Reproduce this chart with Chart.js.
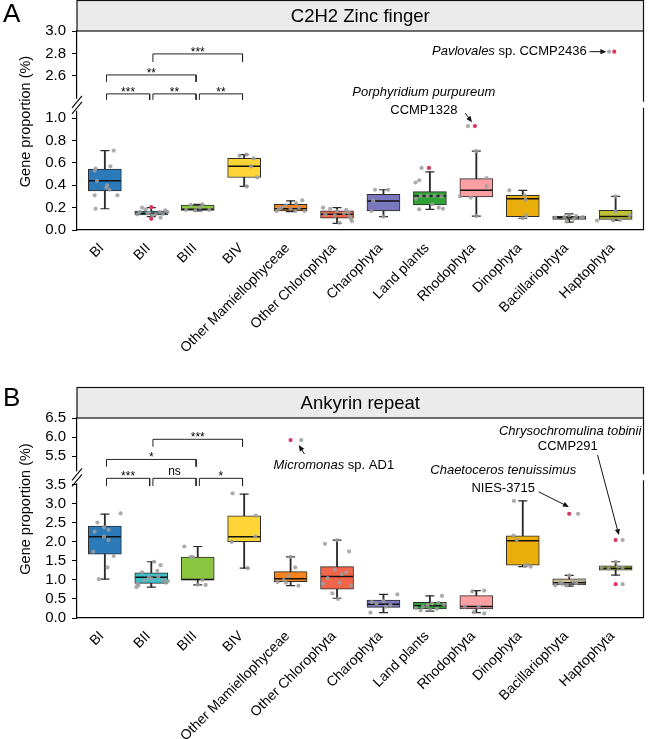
<!DOCTYPE html>
<html><head><meta charset="utf-8">
<script src="https://cdn.jsdelivr.net/npm/chart.js@4.4.1/dist/chart.umd.min.js"></script>
<style>
html,body{margin:0;padding:0;background:#fff;width:661px;height:739px;overflow:hidden;position:relative;}
.wrap{position:absolute;left:0;width:661px;}
canvas{display:block;}
.tag{position:absolute;left:3px;font:26px "Liberation Sans",Arial,sans-serif;color:#000;line-height:30px;}
</style></head><body>
<div class="wrap" style="top:0;height:365px"><canvas id="cA" width="661" height="365"></canvas></div>
<div class="wrap" style="top:365px;height:374px"><canvas id="cB" width="661" height="374"></canvas></div>
<div class="tag" style="top:-2px">A</div>
<div class="tag" style="top:382px">B</div>
<script>
const FONT = '"Liberation Sans", Arial, Helvetica, sans-serif';
const yTitle = 'Gene proportion (%)';
const categories = ['BI','BII','BIII','BIV','Other Mamiellophyceae','Other Chlorophyta','Charophyta','Land plants','Rhodophyta','Dinophyta','Bacillariophyta','Haptophyta'];
const boxColors = ['#2b7bba','#41bfc8','#8cc540','#fdd536','#f5841f','#f2654a','#7b77be','#2fa236','#fb9fa3','#e9ad0c','#cfc092','#c0c236'];

// ---------- Panel A : C2H2 Zinc finger ----------
const titleA = 'C2H2 Zinc finger';
const lowA  = [0.19, 0.12, 0.17, 0.39, 0.165, 0.06, 0.12, 0.185, 0.125, 0.105, 0.07, 0.085];
const q1A   = [0.35, 0.135, 0.175, 0.47, 0.17, 0.105, 0.17, 0.225, 0.295, 0.12, 0.095, 0.095];
const medA  = [0.44, 0.15, 0.185, 0.57, 0.19, 0.14, 0.26, 0.305, 0.355, 0.28, 0.11, 0.12];
const q3A   = [0.545, 0.17, 0.222, 0.64, 0.23, 0.172, 0.32, 0.343, 0.46, 0.31, 0.122, 0.176];
const highA = [0.71, 0.20, 0.23, 0.675, 0.26, 0.20, 0.36, 0.52, 0.705, 0.355, 0.145, 0.30];
const ptsA = [
  [[0.19,0.71],[-0.2,0.55],[-0.22,0.53],[0.12,0.57],[-0.17,0.44],[0.05,0.40],[0.03,0.38],[-0.22,0.31],[0.27,0.31],[-0.2,0.19],[0.1,0.36]],
  [[-0.2,0.2],[-0.12,0.185],[-0.25,0.16],[-0.08,0.15],[0.1,0.14],[0.18,0.16],[0.3,0.175],[0.35,0.16],[0.2,0.11],[0.02,0.13],[-0.05,0.155],[0.25,0.145],[-0.3,0.14]],
  [[-0.25,0.18],[-0.15,0.225],[0.05,0.2],[0.25,0.18],[0.1,0.23],[-0.05,0.175]],
  [[-0.1,0.665],[0.05,0.675],[0.2,0.64],[0.15,0.57],[0.28,0.47],[0.05,0.39]],
  [[-0.3,0.17],[-0.2,0.2],[-0.1,0.22],[0.0,0.19],[0.12,0.24],[0.25,0.265],[0.3,0.17],[-0.25,0.19],[0.1,0.17],[0.18,0.2]],
  [[-0.3,0.2],[-0.15,0.19],[0.0,0.17],[0.15,0.15],[0.28,0.12],[0.3,0.1],[0.32,0.08],[-0.05,0.13],[0.2,0.18],[-0.25,0.14],[0.05,0.065],[0.25,0.155]],
  [[-0.18,0.36],[0.1,0.36],[-0.22,0.26],[-0.26,0.17],[0.0,0.12]],
  [[-0.18,0.555],[-0.23,0.445],[-0.31,0.425],[-0.2,0.305],[-0.05,0.305],[0.1,0.305],[0.25,0.3],[-0.23,0.185],[0.19,0.2],[0.28,0.19],[-0.3,0.28],[0.05,0.23]],
  [[0.22,0.465],[0.22,0.39],[-0.12,0.29],[-0.35,0.3],[0.0,0.125],[0.0,0.705],[-0.18,0.93]],
  [[-0.29,0.355],[0.04,0.31],[0.06,0.27],[0.08,0.13],[0.0,0.105]],
  [[-0.3,0.11],[-0.1,0.115],[0.0,0.13],[0.1,0.1],[0.25,0.11],[-0.05,0.075],[0.3,0.115],[0.15,0.125]],
  [[0.0,0.3],[0.0,0.165],[-0.4,0.085],[-0.05,0.085],[0.1,0.09],[0.3,0.13],[-0.14,2.815]]
];
const redA = [[],[[0,0.205],[0,0.1]],[],[],[],[],[],[[-0.02,0.555]],[[-0.03,0.93]],[],[],[[-0.03,2.815]]];
const rangeLowA = [0, 1.12];
const rangeTopA = [2.34, 3.0];
const ticksLowA = [0, 0.2, 0.4, 0.6, 0.8, 1.0];
const ticksTopA = [2.6, 2.8, 3.0];
const pairsA = [[0,1],[1,2],[2,3],[0,2],[1,3]];
const sigA = ['***','**','**','**','***'];
const barYA = [2.4375, 2.4375, 2.4375, 2.607, 2.795];
const tipYA = [2.384, 2.384, 2.384, 2.545, 2.723];
const notesA = [
  {segs:[['Pavlovales',true],[' sp. CCMP2436',false]], x:10.375, y:2.815, scale:'yTop', align:'right'},
  {segs:[['Porphyridium purpureum',true]], x:6.87, y:1.232, scale:'yLow'},
  {segs:[['CCMP1328',false]], x:6.87, y:1.071, scale:'yLow'}
];
const arrowsA = [
  {x0:10.44, y0:2.815, x1:10.80, y1:2.815, scale:'yTop'},
  {x0:7.76, y0:1.045, x1:7.906, y1:0.964, scale:'yLow'}
];

// ---------- Panel B : Ankyrin repeat ----------
const titleB = 'Ankyrin repeat';
const lowB  = [1.02, 0.81, 0.87, 1.31, 0.85, 0.52, 0.14, 0.18, 0.14, 1.35, 0.84, 1.13];
const q1B   = [1.68, 0.91, 1.0, 2.01, 0.955, 0.76, 0.28, 0.24, 0.24, 1.39, 0.87, 1.26];
const medB  = [2.14, 1.07, 1.01, 2.14, 1.03, 1.09, 0.36, 0.32, 0.3, 2.03, 0.93, 1.31];
const q3B   = [2.42, 1.19, 1.6, 2.69, 1.22, 1.35, 0.47, 0.41, 0.59, 2.16, 1.03, 1.37];
const highB = [2.73, 1.48, 1.88, 3.26, 1.61, 2.05, 0.62, 0.58, 0.72, 3.08, 1.12, 1.48];
const ptsB = [
  [[0.34,2.75],[-0.16,2.51],[-0.22,2.27],[-0.02,2.39],[0.08,2.32],[-0.02,2.14],[0.08,2.05],[-0.25,1.745],[0.19,1.63],[0.06,1.33],[-0.13,1.02]],
  [[0.06,1.48],[-0.2,1.2],[0.13,1.24],[0.2,1.39],[-0.3,0.9],[-0.32,0.81],[-0.05,1.07],[0.15,1.09],[0.25,1.0],[0.32,0.93],[0.36,0.97],[0.0,1.03],[-0.28,0.86],[-0.15,1.0]],
  [[-0.29,1.88],[-0.15,1.61],[-0.1,1.6],[0.1,1.0],[0.17,0.87],[0.0,0.88]],
  [[-0.25,3.28],[0.25,2.69],[0.24,2.14],[-0.27,2.0],[0.08,1.31]],
  [[0.1,1.33],[-0.28,0.95],[-0.15,1.0],[-0.05,1.1],[0.0,1.61],[0.17,0.85],[-0.1,0.93],[0.23,5.92]],
  [[-0.26,1.95],[0.0,2.05],[0.26,1.75],[-0.05,1.27],[0.1,1.15],[-0.2,1.05],[0.05,0.93],[-0.1,0.65],[0.02,0.5],[0.3,0.85],[-0.3,0.9],[0.2,1.2]],
  [[0.3,0.62],[-0.28,0.14],[0.0,0.45],[-0.15,0.38],[0.15,0.34],[-0.25,0.42],[0.05,0.3]],
  [[0.26,0.58],[-0.3,0.26],[-0.15,0.3],[0.05,0.38],[0.18,0.4],[-0.2,0.2],[0.0,0.22],[0.15,0.24],[-0.05,0.33],[0.3,0.35]],
  [[-0.09,0.7],[0.17,0.72],[-0.25,0.3],[0.05,0.3],[0.17,0.12],[-0.05,0.16]],
  [[-0.19,3.08],[-0.13,2.05],[-0.2,2.17],[0.17,1.35],[0.05,1.37],[0.1,1.4]],
  [[-0.3,0.86],[-0.15,0.9],[0.08,0.97],[0.22,1.0],[0.32,1.0],[-0.05,0.86],[-0.2,0.93],[0.15,0.92],[0.0,1.12],[0.19,2.74]],
  [[0.0,1.48],[-0.15,1.3],[0.05,1.35],[0.15,1.32],[-0.3,1.33],[0.15,2.05],[0.15,0.89]]
];
const redB = [[],[],[],[],[[0.0,5.92]],[],[],[],[],[],[[0.0,2.74]],[[0.0,2.05],[0.0,0.89]]];
const rangeLowB = [0, 3.70];
const rangeTopB = [4.94, 6.5];
const ticksLowB = [0, 0.5, 1.0, 1.5, 2.0, 2.5, 3.0, 3.5];
const ticksTopB = [5.5, 6.0, 6.5];
const pairsB = [[0,1],[1,2],[2,3],[0,2],[1,3]];
const sigB = ['***','ns','*','*','***'];
const barYB = [4.913, 4.913, 4.913, 5.41, 5.94];
const tipYB = [4.71, 4.71, 4.71, 5.22, 5.745];
const notesB = [
  {segs:[['Micromonas',true],[' sp. AD1',false]], x:4.93, y:5.263, scale:'yTop'},
  {segs:[['Chaetoceros tenuissimus',true]], x:8.58, y:3.895, scale:'yLow'},
  {segs:[['NIES-3715',false]], x:8.58, y:3.42, scale:'yLow'},
  {segs:[['Chrysochromulina tobinii',true]], x:10.02, y:4.895, scale:'yLow'},
  {segs:[['CCMP291',false]], x:9.97, y:4.5, scale:'yLow'}
];
const arrowsB = [
  {x0:4.30, y0:5.553, x1:4.176, y1:5.79, scale:'yTop'},
  {x0:9.34, y0:3.32, x1:9.995, y1:2.92, scale:'yLow'},
  {x0:10.61, y0:4.29, x1:11.07, y1:2.18, scale:'yLow'}
];

function drawRich(ctx, segs, x, y, align, size) {
  let total = 0;
  const widths = segs.map(([t, it]) => { ctx.font = (it ? 'italic ' : '') + size + 'px ' + FONT; const w = ctx.measureText(t).width; total += w; return w; });
  let sx = align === 'right' ? x - total : (align === 'left' ? x : x - total / 2);
  ctx.textAlign = 'left'; ctx.textBaseline = 'middle'; ctx.fillStyle = '#000';
  segs.forEach(([t, it], k) => { ctx.font = (it ? 'italic ' : '') + size + 'px ' + FONT; ctx.fillText(t, sx, y); sx += widths[k]; });
}
function arrow(ctx, x0, y0, x1, y1) {
  const a = Math.atan2(y1 - y0, x1 - x0), L = 6, W = 2.6;
  ctx.beginPath(); ctx.moveTo(x0, y0); ctx.lineTo(x1 - Math.cos(a) * 3, y1 - Math.sin(a) * 3); ctx.stroke();
  ctx.beginPath(); ctx.moveTo(x1, y1);
  ctx.lineTo(x1 - L * Math.cos(a) + W * Math.sin(a), y1 - L * Math.sin(a) - W * Math.cos(a));
  ctx.lineTo(x1 - L * Math.cos(a) - W * Math.sin(a), y1 - L * Math.sin(a) + W * Math.cos(a));
  ctx.closePath(); ctx.fill();
}

function makePanel(canvasId, P) {
  const idx = categories.map((_, i) => i);
  const brk = P.rangeLow[1];
  const gray = [], grayTop = [], red = [], redTop = [];
  P.pts.forEach((arr, i) => arr.forEach(([o, v]) => (v > brk ? grayTop : gray).push({x: i + o, y: v})));
  P.red.forEach((arr, i) => arr.forEach(([o, v]) => (v > brk ? redTop : red).push({x: i + o, y: v})));
  const dot = (color) => ({type: 'scatter', pointStyle: 'circle', pointRadius: 2.1, pointHoverRadius: 2.1, pointBackgroundColor: color, pointBorderWidth: 0, pointBorderColor: color});
  const datasets = [
    {type: 'bar', data: idx.map(i => ({x: i, y: [P.low[i], P.high[i]]})), backgroundColor: '#2b2b2b', barThickness: 1.2, grouped: false, yAxisID: 'yLow', order: 8},
    {type: 'bar', data: idx.map(i => ({x: i, y: [P.q1[i], P.q3[i]]})), backgroundColor: boxColors, borderColor: '#2b2b2b', borderWidth: 1, borderSkipped: false, barThickness: 33, grouped: false, yAxisID: 'yLow', order: 7},
    {type: 'scatter', data: idx.flatMap(i => [{x: i, y: P.low[i]}, {x: i, y: P.high[i]}]), pointStyle: 'line', pointRadius: 4.5, pointHoverRadius: 4.5, pointBorderColor: '#2b2b2b', pointBorderWidth: 1.2, yAxisID: 'yLow', order: 6},
    {type: 'scatter', data: idx.map(i => ({x: i, y: P.med[i]})), pointStyle: 'line', pointRadius: 16, pointHoverRadius: 16, pointBorderColor: '#111', pointBorderWidth: 1.5, yAxisID: 'yLow', order: 5},
    Object.assign(dot('rgba(158,158,158,0.85)'), {data: gray, yAxisID: 'yLow', order: 3}),
    Object.assign(dot('rgba(158,158,158,0.85)'), {data: grayTop, yAxisID: 'yTop', order: 3, clip: false}),
    Object.assign(dot('#dc3560'), {data: red, yAxisID: 'yLow', order: 2}),
    Object.assign(dot('#dc3560'), {data: redTop, yAxisID: 'yTop', order: 2, clip: false})
  ];
  P.pairs.forEach(([a, b], k) => datasets.push({
    type: 'line', data: [{x: a + 0.035, y: P.tipY[k]}, {x: a + 0.035, y: P.barY[k]}, {x: b - 0.035, y: P.barY[k]}, {x: b - 0.035, y: P.tipY[k]}],
    borderColor: '#222', borderWidth: 1, pointRadius: 0, pointHoverRadius: 0, fill: false, tension: 0, clip: false, yAxisID: 'yTop', order: 4
  }));

  const tickFont = {family: FONT, size: 15};
  const yAxis = (range, ticks, weight) => ({
    type: 'linear', position: 'left', stack: 'ystack', stackWeight: range[1] - range[0], weight: weight,
    min: range[0], max: range[1],
    afterBuildTicks: s => { s.ticks = ticks.map(v => ({value: v})); },
    afterFit: s => { s.width = 77; },
    ticks: {font: tickFont, color: '#000', padding: 6, autoSkip: false, callback: v => Number(v).toFixed(1)},
    grid: {drawOnChartArea: false, drawTicks: true, tickLength: 5, tickColor: '#000', tickWidth: 1},
    border: {display: true, color: '#000', width: 1.2}
  });

  const deco = {
    id: 'deco' + canvasId,
    afterDraw(chart) {
      const {ctx, chartArea: ca, scales} = chart;
      const x = scales.x, yT = scales.yTop, yL = scales.yLow;
      ctx.save();
      ctx.fillStyle = '#ebebeb';
      ctx.fillRect(ca.left, ca.top - 30.5, ca.right - ca.left, 30.5);
      ctx.strokeStyle = '#111'; ctx.lineWidth = 1.2;
      ctx.strokeRect(ca.left, ca.top - 30.5, ca.right - ca.left, 30.5);
      ctx.beginPath(); ctx.moveTo(ca.right, ca.top); ctx.lineTo(ca.right, ca.bottom); ctx.stroke();
      ctx.fillStyle = '#000'; ctx.font = '18.5px ' + FONT; ctx.textAlign = 'center'; ctx.textBaseline = 'middle';
      ctx.fillText(P.title, (ca.left + ca.right) / 2, ca.top - 14.5);
      const j = yL.top;
      ctx.fillStyle = '#fff';
      ctx.fillRect(ca.left - 2, j - 6, 4, 12);
      ctx.fillRect(ca.right - 2, j - 3, 4, 6);
      ctx.strokeStyle = '#000'; ctx.lineWidth = 1.1;
      [-3, 3].forEach(d => { ctx.beginPath(); ctx.moveTo(ca.left - 5, j + d + 6); ctx.lineTo(ca.left + 5, j + d - 6); ctx.stroke(); });
      ctx.save();
      ctx.translate(26, (ca.top + ca.bottom) / 2 - 9); ctx.rotate(-Math.PI / 2);
      ctx.font = '14.5px ' + FONT; ctx.fillStyle = '#000'; ctx.textAlign = 'center'; ctx.textBaseline = 'middle';
      ctx.fillText(yTitle, 0, 0);
      ctx.restore();
      ctx.font = '12px ' + FONT; ctx.textAlign = 'center'; ctx.textBaseline = 'alphabetic'; ctx.fillStyle = '#000';
      P.pairs.forEach(([a, b], k) => {
        const lab = P.sig[k];
        const px = x.getPixelForValue((a + b) / 2), py = yT.getPixelForValue(P.barY[k]);
        ctx.fillText(lab, px, py + (lab.includes('*') ? 2 : -3.5));
      });
      P.notes.forEach(n => drawRich(ctx, n.segs, x.getPixelForValue(n.x), scales[n.scale].getPixelForValue(n.y), n.align || 'center', 13));
      ctx.strokeStyle = '#111'; ctx.fillStyle = '#111'; ctx.lineWidth = 1;
      P.arrows.forEach(a => { const s = scales[a.scale]; arrow(ctx, x.getPixelForValue(a.x0), s.getPixelForValue(a.y0), x.getPixelForValue(a.x1), s.getPixelForValue(a.y1)); });
      ctx.restore();
    }
  };

  return new Chart(document.getElementById(canvasId), {
    type: 'bar',
    data: {datasets},
    options: {
      responsive: false, animation: false, events: [],
      layout: {padding: {top: P.padTop, right: 6, bottom: 0, left: 0}},
      plugins: {legend: {display: false}, tooltip: {enabled: false}, title: {display: false}},
      scales: {
        x: {
          type: 'linear', min: -0.6, max: 11.6, offset: false,
          afterBuildTicks: s => { s.ticks = categories.map((c, i) => ({value: i})); },
          afterFit: s => { s.height = P.xHeight; },
          ticks: {autoSkip: false, maxRotation: 45, minRotation: 45, padding: 2, labelOffset: -3, color: '#000', font: {family: FONT, size: 14}, callback: v => categories[v]},
          grid: {display: false, offset: false},
          border: {display: true, color: '#000', width: 1.2}
        },
        yLow: yAxis(P.rangeLow, P.ticksLow, 0),
        yTop: yAxis(P.rangeTop, P.ticksTop, 1)
      }
    },
    plugins: [deco]
  });
}

makePanel('cA', {title: titleA, low: lowA, q1: q1A, med: medA, q3: q3A, high: highA, pts: ptsA, red: redA,
  rangeLow: rangeLowA, rangeTop: rangeTopA, ticksLow: ticksLowA, ticksTop: ticksTopA,
  pairs: pairsA, sig: sigA, barY: barYA, tipY: tipYA, notes: notesA, arrows: arrowsA, padTop: 31, xHeight: 135});
makePanel('cB', {title: titleB, low: lowB, q1: q1B, med: medB, q3: q3B, high: highB, pts: ptsB, red: redB,
  rangeLow: rangeLowB, rangeTop: rangeTopB, ticksLow: ticksLowB, ticksTop: ticksTopB,
  pairs: pairsB, sig: sigB, barY: barYB, tipY: tipYB, notes: notesB, arrows: arrowsB, padTop: 53, xHeight: 121});
</script>
</body></html>
